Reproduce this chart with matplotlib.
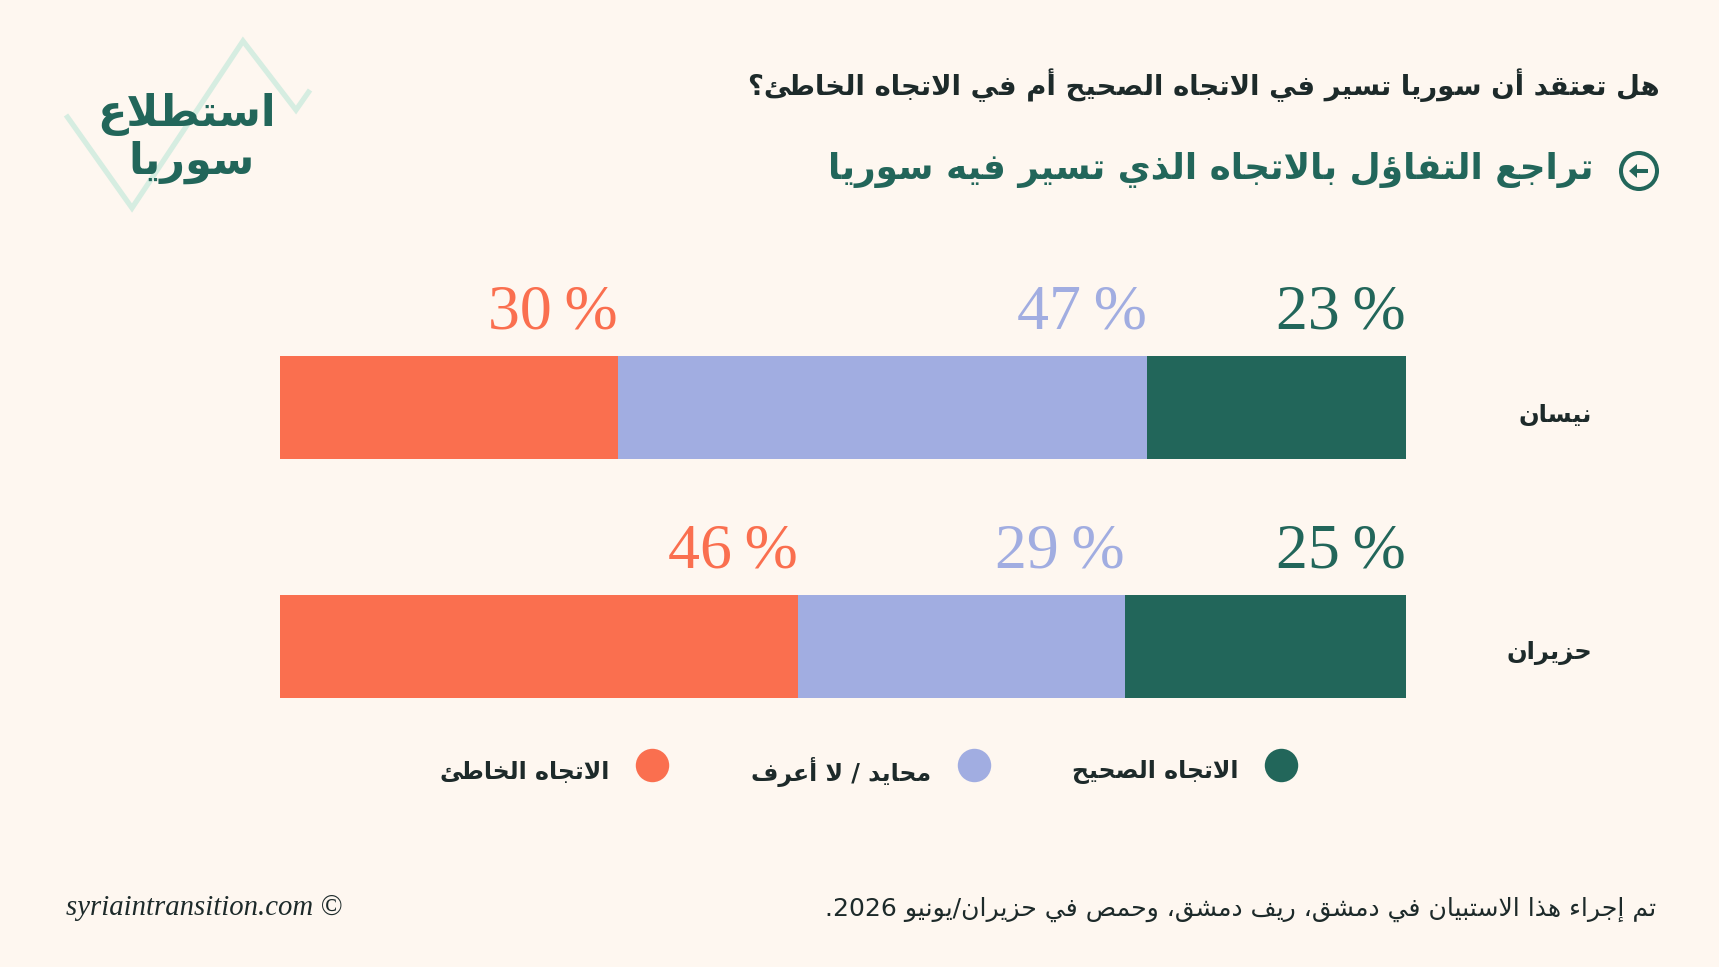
import re

import numpy as np
import matplotlib
matplotlib.use("Agg")
import matplotlib.pyplot as plt
from matplotlib.patches import Circle, Polygon

# Data ---------------------------------------------------------------------------------------------
months       = ["نيسان", "حزيران"]
right_dir    = [23, 25]
neutral      = [47, 29]
wrong_dir    = [30, 46]
series_names = ["الاتجاه الصحيح", "محايد / لا أعرف", "الاتجاه الخاطئ"]

title    = "هل تعتقد أن سوريا تسير في الاتجاه الصحيح أم في الاتجاه الخاطئ؟"
subtitle = "تراجع التفاؤل بالاتجاه الذي تسير فيه سوريا"
footer   = "تم إجراء هذا الاستبيان في دمشق، ريف دمشق، وحمص في حزيران/يونيو 2026."
credit   = "syriaintransition.com ©"
logo     = ["استطلاع", "سوريا"]

# Style --------------------------------------------------------------------------------------------
BG     = "#fef7f0"
ORANGE = "#fa6f4f"
BLUE   = "#a1ade1"
GREEN  = "#22665a"
DARK   = "#1d2a2a"
MINT   = "#d6ede1"
AR     = ["DejaVu Sans"]
SERIF  = ["Liberation Serif", "DejaVu Serif"]

# Arabic shaping (matplotlib does no shaping / bidi) -----------------------------------------------
DUAL = {"ئ": 0xFE89, "ب": 0xFE8F, "ت": 0xFE95, "ث": 0xFE99, "ج": 0xFE9D, "ح": 0xFEA1, "خ": 0xFEA5,
        "س": 0xFEB1, "ش": 0xFEB5, "ص": 0xFEB9, "ض": 0xFEBD, "ط": 0xFEC1, "ظ": 0xFEC5, "ع": 0xFEC9,
        "غ": 0xFECD, "ف": 0xFED1, "ق": 0xFED5, "ك": 0xFED9, "ل": 0xFEDD, "م": 0xFEE1, "ن": 0xFEE5,
        "ه": 0xFEE9, "ي": 0xFEF1}
RIGHT = {"آ": 0xFE81, "أ": 0xFE83, "ؤ": 0xFE85, "إ": 0xFE87, "ا": 0xFE8D, "ة": 0xFE93, "د": 0xFEA9,
         "ذ": 0xFEAB, "ر": 0xFEAD, "ز": 0xFEAF, "و": 0xFEED, "ى": 0xFEEF}
LAM_ALEF = {"آ": 0xFEF5, "أ": 0xFEF7, "إ": 0xFEF9, "ا": 0xFEFB}

def joins(c):
    return c in DUAL or c in RIGHT

def ar(s):
    out = []
    i = 0
    n = len(s)
    while i < n:
        c = s[i]
        link_prev = i > 0 and s[i - 1] in DUAL and joins(c)
        if c == "ل" and i + 1 < n and s[i + 1] in LAM_ALEF:
            out.append(chr(LAM_ALEF[s[i + 1]] + (1 if link_prev else 0)))
            i += 2
            continue
        nxt = s[i + 1] if i + 1 < n else ""
        link_next = c in DUAL and joins(nxt)
        if c in DUAL:
            off = 3 if (link_prev and link_next) else 1 if link_prev else 2 if link_next else 0
            out.append(chr(DUAL[c] + off))
        elif c in RIGHT:
            out.append(chr(RIGHT[c] + (1 if link_prev else 0)))
        else:
            out.append(c)
        i += 1
    vis = "".join(out)[::-1]
    return re.sub(r"[0-9A-Za-z]+", lambda m: m.group()[::-1], vis)

# Figure -------------------------------------------------------------------------------------------
W, H = 1719, 967
fig = plt.figure(figsize=(W / 100, H / 100), dpi=100)
fig.patch.set_facecolor(BG)

# Pixel overlay for titles, logo, legend, footer.
deco = fig.add_axes([0, 0, 1, 1])
deco.set_xlim(0, W)
deco.set_ylim(H, 0)
deco.axis("off")

def fit(t, width):
    r = fig.canvas.get_renderer()
    w = t.get_window_extent(r).width
    t.set_fontsize(t.get_fontsize() * width / w)

# Logo
deco.plot([66, 132, 243, 296, 310], [115, 208, 41, 110, 90], color=MINT, lw=3.8, zorder=1,
          solid_joinstyle="miter", solid_capstyle="butt")
deco.text(187, 114, ar(logo[0]), family=AR, fontweight="bold", fontsize=31, color=GREEN,
          ha="center", va="center", zorder=2)
deco.text(192, 162, ar(logo[1]), family=AR, fontweight="bold", fontsize=31, color=GREEN,
          ha="center", va="center", zorder=2)

# Titles
t = deco.text(1660, 85, ar(title), family=AR, fontweight="bold", fontsize=22, color=DARK,
              ha="right", va="center")
fit(t, 910)
t = deco.text(1594, 170, ar(subtitle), family=AR, fontweight="bold", fontsize=28, color=GREEN,
              ha="right", va="center")
fit(t, 765)
deco.add_patch(Circle((1639, 171), 18, fill=False, ec=GREEN, lw=2.9))
deco.plot([1633, 1648], [171, 171], color=GREEN, lw=2.9, solid_capstyle="butt")
deco.add_patch(Polygon([[1629, 171], [1637, 164], [1637, 178]], closed=True, fc=GREEN, ec="none"))

# Bars
ax = fig.add_axes([280 / W, 1 - 698 / H, (1406 - 280) / W, (698 - 356) / H])
ax.set_facecolor("none")
y = np.arange(len(months))
bh = 0.432
left = np.zeros(len(months))
for vals, col in [(wrong_dir, ORANGE), (neutral, BLUE), (right_dir, GREEN)]:
    vals = np.array(vals, dtype=float)
    ax.barh(y, vals, left=left, height=bh, color=col, linewidth=0)
    for yi, l, v in zip(y, left, vals):
        ax.annotate(f"{v:.0f}\u2009%", xy=(l + v, yi - bh / 2), xytext=(0, 20), textcoords="offset points",
                    ha="right", va="baseline", family=SERIF, fontsize=46, color=col)
    left += vals
for yi, m in zip(y, months):
    ax.annotate(ar(m), xy=(100, yi), xytext=(134, -5), textcoords="offset points",
                ha="right", va="center", family=AR, fontweight="bold", fontsize=17.5, color=DARK,
                annotation_clip=False)
ax.set_xlim(0, 100)
ax.set_ylim(1 + bh / 2, -bh / 2)
ax.axis("off")

# Legend (RTL: marker on the right of its label)
for name, col, mx in zip(series_names, [GREEN, BLUE, ORANGE], [1281, 974, 652]):
    deco.scatter([mx], [765], s=580, color=col, linewidths=0)
    deco.text(mx - 43, 772, ar(name), family=AR, fontweight="bold", fontsize=17, color=DARK,
              ha="right", va="center")

# Footer
t = deco.text(1656, 909, ar(footer), family=AR, fontsize=16, color=DARK, ha="right", va="center")
fit(t, 834)
t = deco.text(66, 908, credit, family=SERIF, style="italic", fontsize=17, color=DARK,
              ha="left", va="center")
fit(t, 277)

fig.savefig("out.png", dpi=100, facecolor=BG)
